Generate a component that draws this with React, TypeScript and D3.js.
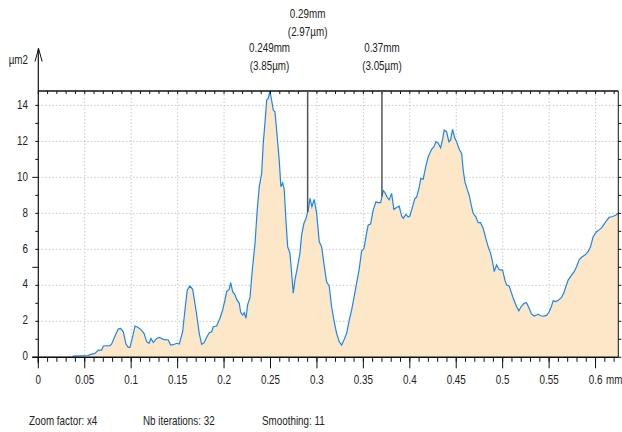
import React from "react";
import * as d3 from "d3";

// Profile position along the cut (mm)
const positions: number[] = [
  0, 0.0374, 0.0376, 0.0538, 0.0557, 0.061, 0.0646, 0.0682, 0.07, 0.0772, 0.079, 0.0826, 0.0861, 0.0887,
  0.0915, 0.0944, 0.0969, 0.0987, 0.1016, 0.1041, 0.1076, 0.1113, 0.1138, 0.1167, 0.1192, 0.1213, 0.1238,
  0.1274, 0.1302, 0.1346, 0.1399, 0.1425, 0.1453, 0.149, 0.1518, 0.1554, 0.1579, 0.1604, 0.1633, 0.1662,
  0.1698, 0.1733, 0.1759, 0.1784, 0.1813, 0.1841, 0.1867, 0.1884, 0.192, 0.1956, 0.1985, 0.201, 0.2028,
  0.2056, 0.2071, 0.2093, 0.2118, 0.2136, 0.2164, 0.2179, 0.22, 0.2217, 0.2236, 0.2254, 0.2279, 0.2304,
  0.2333, 0.2357, 0.2379, 0.2405, 0.2422, 0.244, 0.2459, 0.2476, 0.2494, 0.2512, 0.253, 0.2548, 0.2566,
  0.2594, 0.2612, 0.2631, 0.2648, 0.2666, 0.2685, 0.2709, 0.2728, 0.2745, 0.2763, 0.2788, 0.2817, 0.2835,
  0.286, 0.2882, 0.2906, 0.2925, 0.2946, 0.2971, 0.2997, 0.3025, 0.3051, 0.3075, 0.3104, 0.3132, 0.3158,
  0.3183, 0.3212, 0.324, 0.3266, 0.3291, 0.332, 0.3348, 0.3374, 0.3401, 0.3427, 0.3455, 0.3481, 0.3506,
  0.3535, 0.3552, 0.3578, 0.3606, 0.3635, 0.366, 0.3686, 0.3714, 0.3732, 0.3757, 0.3778, 0.3804, 0.3829,
  0.3858, 0.3886, 0.3912, 0.3929, 0.3958, 0.3983, 0.4001, 0.403, 0.4055, 0.4073, 0.4101, 0.4119, 0.4144,
  0.4173, 0.4198, 0.4235, 0.426, 0.4281, 0.4306, 0.4332, 0.4353, 0.437, 0.4396, 0.4421, 0.4439, 0.4461,
  0.4485, 0.4504, 0.4532, 0.4558, 0.4575, 0.4593, 0.4618, 0.4639, 0.4665, 0.4682, 0.4711, 0.4736, 0.4762,
  0.479, 0.4819, 0.4844, 0.487, 0.4891, 0.4909, 0.4934, 0.4962, 0.4999, 0.5024, 0.5042, 0.507, 0.5096,
  0.5121, 0.515, 0.5174, 0.5203, 0.5231, 0.5257, 0.5285, 0.5311, 0.5339, 0.5365, 0.5382, 0.5408, 0.5443,
  0.5473, 0.5501, 0.5526, 0.5544, 0.5573, 0.5602, 0.5634, 0.5659, 0.568, 0.5705, 0.5742, 0.577, 0.5795,
  0.5823, 0.5849, 0.5885, 0.592, 0.5946, 0.5974, 0.6011, 0.6046, 0.6075, 0.6111, 0.6146, 0.6172, 0.6197,
  0.6219, 0.6245,
];

// Area value at each position (µm²)
const areas: number[] = [
  0, 0, 0.07, 0.1, 0.15, 0.22, 0.4, 0.4, 0.63, 0.65, 0.74, 1.18, 1.57, 1.6,
  1.42, 0.74, 0.55, 0.55, 1.15, 1.74, 1.66, 1.5, 1.33, 0.87, 0.78, 1.05, 0.82,
  1.05, 1.11, 1.0, 0.96, 0.68, 0.7, 0.78, 0.74, 1.42, 2.63, 3.74, 3.96, 3.78,
  2.63, 1.33, 0.72, 0.8, 1.11, 1.37, 1.42, 1.7, 1.74, 2.17, 2.63, 3.18, 3.65,
  3.78, 4.15, 3.65, 3.47, 3.22, 3.0, 2.5, 2.35, 2.48, 2.17, 2.93, 3.3, 4.85,
  6.3, 8.18, 9.48, 10.22, 11.89, 13.0, 14.29, 14.39, 14.8, 14.29, 13.74, 13.64, 12.63,
  10.96, 9.48, 9.7, 9.33, 7.63, 6.14, 5.81, 4.67, 3.56, 4.29, 4.94, 5.78, 6.79,
  7.44, 7.72, 8.18, 8.83, 8.37, 8.78, 8.0, 6.42, 6.14, 5.22, 4.2, 3.96, 2.81,
  2.07, 1.33, 0.87, 0.68, 0.96, 1.33, 2.07, 2.63, 3.37, 4.11, 4.9, 5.9, 6.03,
  6.9, 7.35, 7.4, 8.18, 8.64, 8.6, 8.6, 9.26, 9.15, 8.89, 8.75, 9.11, 8.22,
  8.33, 8.4, 7.85, 7.72, 7.94, 7.8, 7.85, 8.37, 8.83, 8.89, 9.44, 9.94, 9.9,
  10.63, 11.14, 11.56, 11.7, 11.98, 11.9, 11.64, 12.11, 12.63, 12.54, 11.98, 12.07, 12.67,
  12.17, 11.98, 11.56, 11.33, 10.41, 9.76, 9.33, 9.02, 8.37, 8.0, 7.81, 7.48, 7.48,
  7.17, 6.6, 6.14, 5.78, 5.31, 4.76, 5.13, 4.87, 4.85, 4.29, 4.02, 3.96, 3.55,
  3.18, 2.81, 2.59, 2.85, 3.0, 3.03, 2.72, 2.4, 2.29, 2.35, 2.4, 2.31, 2.29,
  2.33, 2.53, 2.85, 3.14, 3.1, 3.18, 3.33, 3.59, 3.92, 4.29, 4.57, 4.76, 5.03,
  5.41, 5.56, 5.68, 5.87, 6.14, 6.7, 6.98, 7.11, 7.26, 7.54, 7.78, 7.81, 7.85,
  7.91, 8.0,
];

// Cursor annotations
const cursorPositions: number[] = [0.249, 0.29, 0.37];
const cursorLabels: string[] = ["0.249mm", "0.29mm", "0.37mm"];
const cursorWidths: string[] = ["(3.85µm)", "(2.97µm)", "(3.05µm)"];
const cursorRaised: boolean[] = [false, true, false];

const xTickLabels: string[] = ["0", "0.05", "0.1", "0.15", "0.2", "0.25", "0.3", "0.35", "0.4", "0.45", "0.5", "0.55", "0.6"];
const yTickLabels: string[] = ["0", "2", "4", "6", "8", "10", "12", "14"];
const footerNotes: string[] = ["Zoom factor: x4", "Nb iterations: 32", "Smoothing: 11"];

const FONT = "'Liberation Sans', Arial, sans-serif";
const SQUEEZE = 0.82;

type NTextProps = {
  x: number;
  y: number;
  anchor?: "start" | "middle" | "end";
  size?: number;
  children: React.ReactNode;
};

// Condensed label: regular sans squeezed horizontally
function NText({ x, y, anchor = "start", size = 12, children }: NTextProps) {
  return (
    <g transform={`translate(${x},${y}) scale(${SQUEEZE},1)`}>
      <text x={0} y={0} textAnchor={anchor} dominantBaseline="middle" fontSize={size} fill="#222">
        {children}
      </text>
    </g>
  );
}

export default function App() {
  const W = 622;
  const H = 432;
  const left = 38.3;
  const right = 618.3;
  const top = 91;
  const bottom = 357.3;

  const xMax = positions[positions.length - 1];
  const yMax = d3.max(areas) as number;

  const x = d3.scaleLinear().domain([0, xMax]).range([left, right]);
  const y = d3.scaleLinear().domain([0, yMax]).range([bottom, top]);

  const pts: [number, number][] = positions.map((p, i) => [p, areas[i]]);

  const area = d3
    .area<[number, number]>()
    .x((d) => x(d[0]))
    .y0(y(0))
    .y1((d) => y(d[1]));
  const line = d3
    .line<[number, number]>()
    .x((d) => x(d[0]))
    .y((d) => y(d[1]));

  const valueAt = (p: number) => {
    const i = d3.bisector((d: number) => d).left(positions, p);
    if (i <= 0) return areas[0];
    if (i >= positions.length) return areas[areas.length - 1];
    const x0 = positions[i - 1];
    const x1 = positions[i];
    const t = (p - x0) / (x1 - x0);
    return areas[i - 1] + t * (areas[i] - areas[i - 1]);
  };

  const xMajor = xTickLabels.map((s) => +s);
  const xMinor = d3.range(0, Math.round(xMax * 100) + 1).map((i) => i / 100);
  const yMajor = yTickLabels.map((s) => +s);
  const yMinor = d3.range(0, Math.floor(yMax) + 1);

  const grid = "#c9c9c9";

  return (
    <svg
      width={W}
      height={H}
      style={{ position: "absolute", left: 0, top: 0, background: "#fff" }}
      fontFamily={FONT}
    >
      <rect x={0} y={0} width={W} height={H} fill="#fff" />

      {/* grid */}
      {xMajor
        .filter((v) => v > 0)
        .map((v) => (
          <line
            key={`gx${v}`}
            x1={x(v)}
            x2={x(v)}
            y1={top}
            y2={bottom}
            stroke={grid}
            strokeWidth={1}
            strokeDasharray="1.5,2"
          />
        ))}
      {yMajor
        .filter((v) => v > 0)
        .map((v) => (
          <line
            key={`gy${v}`}
            x1={left}
            x2={right}
            y1={y(v)}
            y2={y(v)}
            stroke={grid}
            strokeWidth={1}
            strokeDasharray="1.5,2"
          />
        ))}

      {/* profile */}
      <path d={area(pts) as string} fill="#fde7c9" />
      <path d={line(pts) as string} fill="none" stroke="#1a87f0" strokeWidth={1.2} />

      {/* frame: top and right */}
      <line x1={left} x2={right} y1={top} y2={top} stroke="#111" strokeWidth={1.6} />
      {xMinor.map((v) => (
        <line key={`tt${v}`} x1={x(v)} x2={x(v)} y1={top} y2={top + 3} stroke="#111" strokeWidth={1} />
      ))}
      <line x1={right} x2={right} y1={top} y2={bottom} stroke="#111" strokeWidth={1} />
      {yMinor.map((v) => (
        <line key={`rt${v}`} x1={right} x2={right + 3} y1={y(v)} y2={y(v)} stroke="#111" strokeWidth={1} />
      ))}

      {/* cursors */}
      {cursorPositions.map((p, i) => {
        const cx = x(p);
        const cy = y(valueAt(p));
        const ly = cursorRaised[i] ? 15 : 49;
        return (
          <g key={`c${i}`}>
            {cy > top + 2 && (
              <line x1={cx} x2={cx} y1={top} y2={cy} stroke="#555" strokeWidth={1.5} />
            )}
            <NText x={cx} y={ly} anchor="middle">
              {cursorLabels[i]}
            </NText>
            <NText x={cx} y={ly + 18} anchor="middle">
              {cursorWidths[i]}
            </NText>
          </g>
        );
      })}

      {/* x axis */}
      <line x1={left - 6} x2={right} y1={bottom} y2={bottom} stroke="#111" strokeWidth={1.6} />
      {xMinor.map((v) => (
        <line key={`xm${v}`} x1={x(v)} x2={x(v)} y1={bottom} y2={bottom + 4.5} stroke="#111" strokeWidth={1} />
      ))}
      {xMajor.map((v, i) => (
        <g key={`xM${v}`}>
          <line x1={x(v)} x2={x(v)} y1={bottom} y2={bottom + 11} stroke="#111" strokeWidth={1} />
          <NText x={x(v)} y={381} anchor="middle">
            {xTickLabels[i]}
          </NText>
        </g>
      ))}
      <NText x={x(0.6) + 10.5} y={381}>
        mm
      </NText>

      {/* y axis */}
      <line x1={left} x2={left} y1={48.5} y2={bottom + 6} stroke="#111" strokeWidth={1.2} />
      <path d={`M${left - 3.3},${61.5} L${left + 0.3},${48.5} L${left + 3.8},${61.5}`} fill="none" stroke="#111" strokeWidth={1} />
      {yMinor.map((v) => (
        <line
          key={`ym${v}`}
          x1={left - (v % 5 === 0 ? 6 : 3)}
          x2={left}
          y1={y(v)}
          y2={y(v)}
          stroke="#111"
          strokeWidth={1}
        />
      ))}
      {yMajor.map((v, i) => (
        <NText key={`yl${v}`} x={28} y={y(v)} anchor="end">
          {yTickLabels[i]}
        </NText>
      ))}
      <NText x={28} y={61} anchor="end">
        µm2
      </NText>

      {/* footer */}
      {footerNotes.map((s, i) => (
        <NText key={`f${i}`} x={[29, 143, 262][i]} y={422}>
          {s}
        </NText>
      ))}
    </svg>
  );
}
